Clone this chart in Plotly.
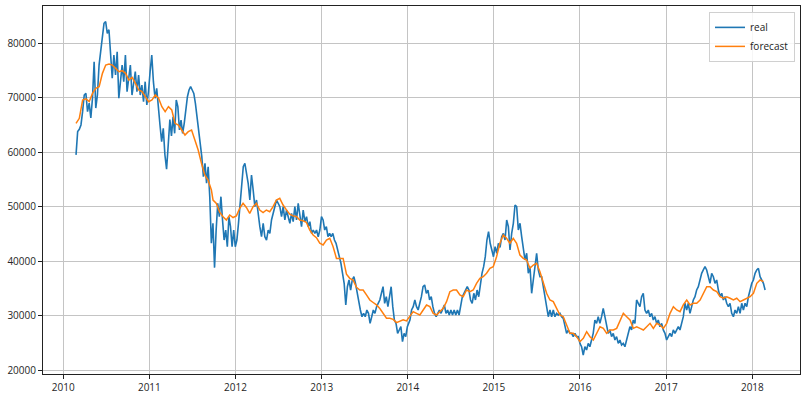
import pandas as pd
import plotly.graph_objects as go

# ---- real series in eight consecutive stretches ----
real_a = [59500, 63800, 64200, 65000, 67440, 70500, 70800, 67440, 69000, 66280,
          69900, 76620, 68100, 70500, 76000, 78450, 81520, 83670, 84000, 81800,
          82500, 77240, 73570, 77850, 74180, 78450, 69900, 72950, 76000, 72950,
          77850, 71100, 74180, 76000, 70500, 72950, 74800, 71100, 74180, 70500,
          72340, 69270, 72950, 68670, 71100, 74800, 77850, 72950, 69900, 71730,
          67440, 64990, 61930, 64390, 59480, 56900, 61320]
real_b = [66000, 63000, 66500, 63470, 69600, 68360, 64080, 65910, 63470, 65300,
          68360, 70190, 71420, 72030, 71420, 70800, 68980, 66520, 64680, 61630,
          59180, 55500, 57960, 54290, 57330, 51830, 43270, 46940, 38800, 45710,
          50610, 48150, 51830, 47550, 43870, 45710, 42640, 48150, 46320, 42640,
          45710, 42640, 43870, 46940, 50610, 54290, 57330, 57960]
real_c = [54290, 51220, 55810, 53060, 50000, 51220, 48150, 46320, 44480, 46940,
          44480, 43870, 45710, 45100, 47550, 48780, 50000, 51220, 50610, 50000,
          48150, 50000, 47550, 49380, 48150, 46940, 48780, 47240, 50000, 47550,
          50610, 48150, 46320, 49380, 47240, 48150, 46320, 47240, 45100, 45710,
          45100, 45710, 44480]
real_d = [45710, 48150, 47550, 45710, 46320, 44480, 45100, 44480, 45100, 43870,
          43270, 42040, 40810, 39600, 37760, 35920, 31940, 35300, 36530, 34690,
          36530, 37130, 35920, 34090, 32250, 31020, 29790, 30410, 29790, 31020,
          30410, 28570, 29790, 31020, 30410, 31630, 32250, 32860, 34090, 35300,
          32250, 33460, 31630, 33460, 35300, 31630, 29180, 28570, 26730, 27350,
          27950, 25200, 26730, 26120, 27950]
real_e = [29180, 31020, 31630, 32860, 31630, 31020, 32250, 33460, 35300, 35610,
          34090, 34690, 32860, 33460, 31630, 30410, 29790, 30410, 31020, 30410,
          31020, 31940, 30410, 31020, 30100, 31020, 30100, 31020, 30100, 31020,
          30100, 32250, 33460, 34090, 34690, 35300, 34690, 32860, 32250, 34090,
          32860, 34690, 33460, 35920, 37760, 38980, 40810, 43870, 45400, 43270,
          42040, 40810, 42640, 41430, 43270]
real_f = [42500, 44480, 45100, 43870, 47550, 46320, 42040, 45100, 46940, 50300,
          50000, 45710, 46940, 44480, 42640, 40200, 41430, 37760, 38980, 34090,
          36530, 38980, 41430, 38370, 37130, 37130, 35300, 34090, 31630, 29790,
          31020, 29790, 31020, 29790, 30410, 30100, 30410, 29790, 29490, 27950,
          26730, 27350, 26730, 26730, 26120, 26730, 26120, 26120, 24900, 24280,
          22760, 24280, 23670, 24900]
real_g = [24280, 25510, 26730, 29180, 28570, 29790, 28570, 29790, 31330, 29790,
          27950, 26730, 27350, 26120, 26730, 25510, 26120, 24900, 25510, 24590,
          24900, 24280, 25510, 26730, 27950, 27350, 29180, 28570, 32860, 32250,
          31630, 33460, 34090, 31020, 30410, 31020, 29790, 30410, 29180, 29790,
          28570, 29180, 27950, 28570, 27350, 26730, 25510, 26120, 26730, 26120,
          27350, 26730, 27350, 27950]
real_h = [27350, 28570, 29790, 32250, 31020, 32250, 30410, 31630, 32860, 33460,
          34690, 35300, 36530, 37760, 38370, 38980, 38370, 37130, 35920, 37760,
          37130, 35920, 36530, 34690, 33460, 34090, 32860, 33460, 32250, 31630,
          32250, 30410, 29790, 31020, 30410, 31630, 30410, 32250, 31020, 32250,
          31630, 33460, 34690, 35920, 36530, 37760, 38370, 38680, 37130, 36530,
          35920, 34690]
real_spans = [("2010-02-24", "2011-03-22"), ("2011-03-29", "2012-02-10"),
              ("2012-02-24", "2012-12-17"), ("2012-12-24", "2013-12-30"),
              ("2014-01-10", "2015-01-20"), ("2015-01-27", "2016-02-05"),
              ("2016-02-12", "2017-02-21"), ("2017-02-28", "2018-02-24")]
real_parts = [real_a, real_b, real_c, real_d, real_e, real_f, real_g, real_h]

# ---- forecast series, two stretches ----
fc_a = [65300, 66220, 69580, 69800, 69300, 70800, 71730, 72030, 74480, 76000,
        76190, 76000, 75400, 74790, 74970, 74480, 73260, 73750, 72650, 71420,
        71110, 70190, 69270, 69580, 70500, 69900, 68360, 67440, 68360, 67750,
        65300, 64990, 64080, 63160, 63770, 64080, 62240, 60400, 57960, 55810,
        54890, 53060]
fc_b = [51200, 50600, 49000, 48150, 47550, 48470, 48000, 48300, 49700, 50610,
        49850, 48780, 50000, 50610, 49380, 48900, 49380, 49070, 50000, 51220,
        51530, 50300, 49400, 48600, 48300, 48200, 47550, 47400, 47100, 45700,
        44790, 44300, 43300, 42960, 43870, 44180, 42640, 40500, 40500, 40500,
        37600, 36840, 36500, 35200, 34700, 34700, 33800, 32850, 32400, 31950,
        31300, 30400, 29500, 29500, 29300, 28700, 29000, 29200, 29000, 29790,
        30710, 30410, 30100, 31020, 31940, 31630, 30410, 30100, 30710, 31330,
        32550, 34380, 34690, 34690, 33770, 33460, 34690, 34380, 34690, 35920,
        36840, 37130, 37760, 38680, 38980, 40810, 43270, 44790, 44180, 43270,
        44180, 43270, 41120, 40500, 40200, 38680, 39280, 39590, 38050, 36220,
        34090, 32860, 32550, 31330, 30100, 29790, 28260, 26730, 26730, 26120,
        25200, 25820, 27040, 26120, 25510, 26730, 27950, 27650, 26730, 27350,
        27350, 27650, 29180, 30410, 29790, 29180, 27650, 27950, 27650, 27350,
        27950, 28570, 27650, 28570, 28260, 27650, 28570, 30410, 31630, 31020,
        30710, 32000, 32860, 31940, 32250, 32250, 32860, 34090, 35300, 35300,
        34690, 34380, 33460, 33170, 33460, 33170, 32860, 33170, 32550, 32860,
        33170, 33460, 34090, 35920, 36530, 36220]
fc_spans = [("2010-02-24", "2011-09-21"), ("2011-09-28", "2018-02-17")]
fc_parts = [fc_a, fc_b]

year_ticks = [2010, 2011, 2012, 2013, 2014, 2015, 2016, 2017, 2018]
y_ticks = [20000, 30000, 40000, 50000, 60000, 70000, 80000]


def build(parts, spans):
    xs, ys = [], []
    for vals, (s, e) in zip(parts, spans):
        xs.extend(pd.date_range(s, e, periods=len(vals)))
        ys.extend(vals)
    return xs, ys


rx, ry = build(real_parts, real_spans)
fx, fy = build(fc_parts, fc_spans)

fig = go.Figure()
fig.add_trace(go.Scatter(x=rx, y=ry, mode="lines", name="real",
                         line=dict(color="#1f77b4", width=1.6)))
fig.add_trace(go.Scatter(x=fx, y=fy, mode="lines", name="forecast",
                         line=dict(color="#ff7f0e", width=1.5)))

axis_common = dict(showgrid=True, gridcolor="#c4c4c4", gridwidth=1,
                   showline=True, linecolor="#222", linewidth=1, mirror=True,
                   ticks="outside", ticklen=4, tickcolor="#222", zeroline=False,
                   tickfont=dict(family="Open Sans", size=10, color="#262626"))

fig.update_layout(
    width=805, height=398,
    margin=dict(l=43, r=5, t=6, b=24),
    paper_bgcolor="white", plot_bgcolor="white",
    font=dict(family="Open Sans", size=10, color="#262626"),
    xaxis=dict(type="date", range=["2009-10-07", "2018-07-22"],
               tickvals=[f"{y}-01-01" for y in year_ticks],
               ticktext=[str(y) for y in year_ticks], **axis_common),
    yaxis=dict(range=[19265, 86850], tickvals=y_ticks,
               ticktext=[str(v) for v in y_ticks], **axis_common),
    legend=dict(x=0.9934, y=0.984, xanchor="right", yanchor="top",
                bgcolor="rgba(255,255,255,0.85)", bordercolor="#d0d0d0",
                borderwidth=1, font=dict(family="Open Sans", size=10, color="#222"),
                itemwidth=30, tracegroupgap=0),
    showlegend=True,
)

fig.write_html("out.html", config={"displayModeBar": False},
               post_script="document.body.style.margin='0';document.body.style.padding='0';")
